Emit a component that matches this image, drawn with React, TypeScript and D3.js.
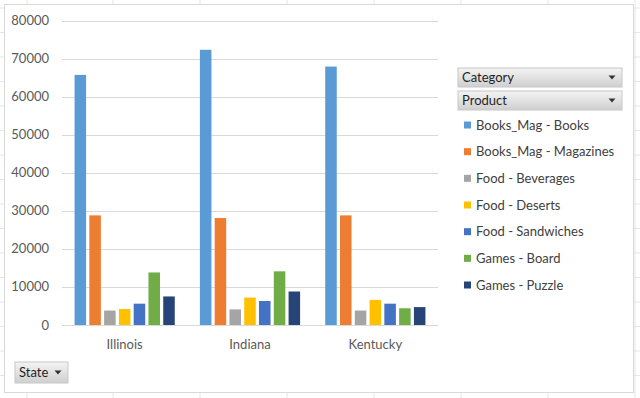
import { useRef, useEffect } from 'react';
import * as d3 from 'd3';

const STATES = ['Illinois', 'Indiana', 'Kentucky'];
const PRODUCTS = [
  'Books_Mag - Books',
  'Books_Mag - Magazines',
  'Food - Beverages',
  'Food - Deserts',
  'Food - Sandwiches',
  'Games - Board',
  'Games - Puzzle',
];
const COLORS = ['#5b9bd5', '#ed7d31', '#a5a5a5', '#ffc000', '#4472c4', '#70ad47', '#264478'];
// one row per product, one value per state
const ILLINOIS = [65700, 28800, 3800, 4200, 5600, 13800, 7500];
const INDIANA = [72300, 28100, 4100, 7200, 6300, 14100, 8800];
const KENTUCKY = [67900, 28800, 3800, 6600, 5600, 4400, 4700];
const Y_TICKS = [0, 10000, 20000, 30000, 40000, 50000, 60000, 70000, 80000];

const FONT = 'Lato, "Open Sans", sans-serif';

export default function App() {
  const ref = useRef<SVGSVGElement>(null);

  useEffect(() => {
    const svg = ref.current;
    if (!svg) return;
    const W = 640, H = 398;
    d3.select(svg).selectAll('*').remove();
    const root = d3.select(svg).attr('width', W).attr('height', H).attr('viewBox', `0 0 ${W} ${H}`);

    // spreadsheet behind the chart
    root.append('rect').attr('width', W).attr('height', H).attr('fill', '#ffffff');
    [27, 113, 200, 287, 374, 461, 548, 635].forEach((x) => {
      root.append('line').attr('x1', x).attr('x2', x).attr('y1', 0).attr('y2', H).attr('stroke', '#e6e6e6');
    });
    d3.range(0, H, 24.5).forEach((y) => {
      root.append('line').attr('x1', 0).attr('x2', W).attr('y1', y + 8).attr('y2', y + 8).attr('stroke', '#e6e6e6');
    });

    // chart area
    root.append('rect').attr('x', 4.5).attr('y', 4.5).attr('width', 629).attr('height', 388)
      .attr('fill', '#ffffff').attr('stroke', '#d9d9d9');

    const defs = root.append('defs');
    const grad = defs.append('linearGradient').attr('id', 'btn').attr('x1', 0).attr('y1', 0).attr('x2', 0).attr('y2', 1);
    grad.append('stop').attr('offset', '0%').attr('stop-color', '#f4f4f4');
    grad.append('stop').attr('offset', '100%').attr('stop-color', '#cfcfcf');

    const data = [ILLINOIS, INDIANA, KENTUCKY];
    const y = d3.scaleLinear().domain([0, 80000]).range([325, 20.5]);
    const x0 = d3.scaleBand().domain(STATES).range([62, 438]);
    const x1 = d3.scaleBand().domain(PRODUCTS).range([0, x0.bandwidth()]).paddingInner(0.22).paddingOuter(0.85);

    const g = root.append('g');
    Y_TICKS.forEach((t) => {
      g.append('line').attr('x1', 62).attr('x2', 438).attr('y1', Math.round(y(t)) + 0.5).attr('y2', Math.round(y(t)) + 0.5)
        .attr('stroke', '#d9d9d9');
      g.append('text').attr('x', 49).attr('y', y(t) + 4.5).attr('text-anchor', 'end')
        .attr('font-family', FONT).attr('font-size', 13).attr('fill', '#595959').text(t);
    });

    STATES.forEach((s, si) => {
      PRODUCTS.forEach((p, pi) => {
        const v = data[si][pi];
        g.append('rect').attr('x', x0(s)! + x1(p)!).attr('y', y(v))
          .attr('width', x1.bandwidth()).attr('height', y(0) - y(v)).attr('fill', COLORS[pi]);
      });
      g.append('text').attr('x', x0(s)! + x0.bandwidth() / 2).attr('y', 349).attr('text-anchor', 'middle')
        .attr('font-family', FONT).attr('font-size', 13).attr('fill', '#595959').text(s);
    });

    const button = (bx: number, by: number, bw: number, bh: number, label: string) => {
      root.append('rect').attr('x', bx).attr('y', by).attr('width', bw).attr('height', bh)
        .attr('fill', 'url(#btn)').attr('stroke', '#c8c8c8');
      root.append('text').attr('x', bx + 4).attr('y', by + bh / 2 + 4.5)
        .attr('font-family', FONT).attr('font-size', 13).attr('fill', '#1f1f1f').text(label);
      const tx = bx + bw - 10, ty = by + bh / 2 - 2;
      root.append('path').attr('d', `M${tx - 3.5},${ty} L${tx + 3.5},${ty} L${tx},${ty + 4} Z`).attr('fill', '#333');
    };

    // legend
    button(458, 68, 164, 19, 'Category');
    button(458, 91, 164, 19, 'Product');
    const ly = d3.scalePoint().domain(PRODUCTS).range([125, 285]);
    PRODUCTS.forEach((p, i) => {
      root.append('rect').attr('x', 464).attr('y', ly(p)! - 3.5).attr('width', 7).attr('height', 7).attr('fill', COLORS[i]);
      root.append('text').attr('x', 476).attr('y', ly(p)! + 4.5)
        .attr('font-family', FONT).attr('font-size', 13).attr('fill', '#404040').text(p);
    });

    button(15, 362, 53, 21, 'State');
  }, []);

  return (
    <div style={{ position: 'absolute', left: 0, top: 0 }}>
      <svg ref={ref} style={{ display: 'block' }} />
    </div>
  );
}
